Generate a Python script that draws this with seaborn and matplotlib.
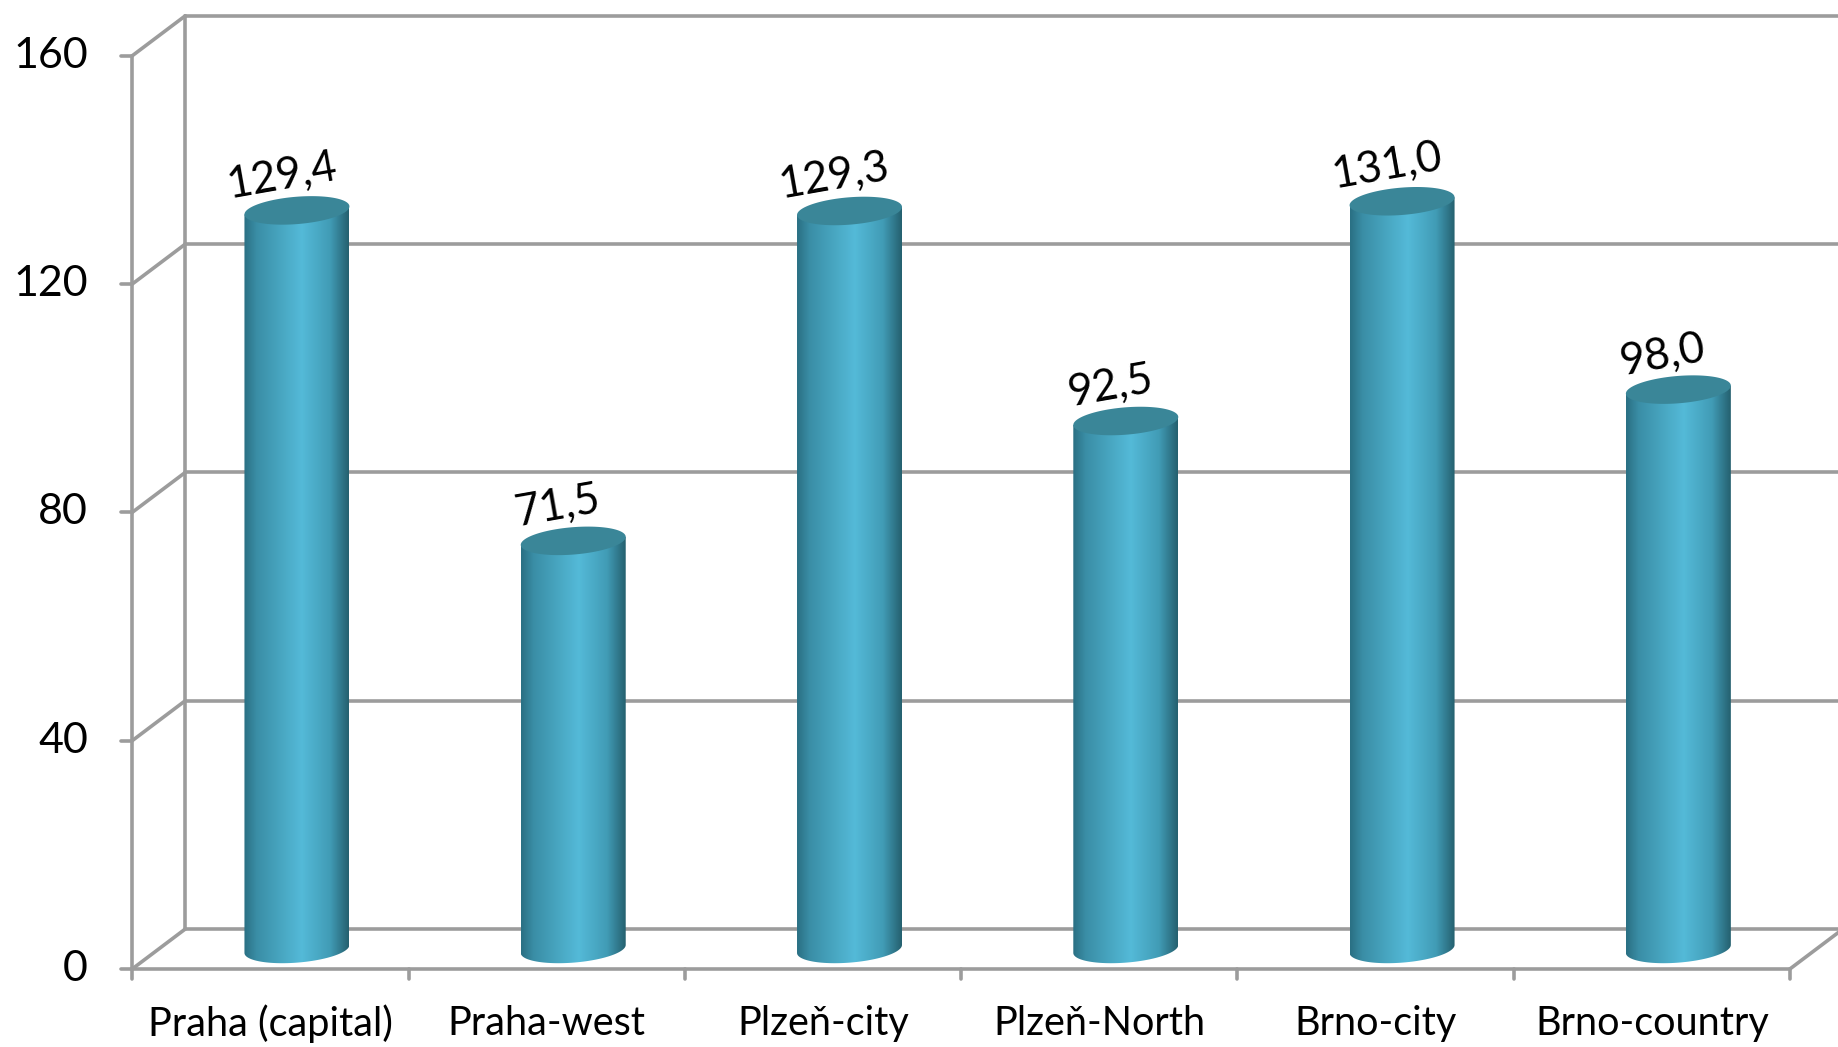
import numpy as np
import pandas as pd
import seaborn as sns
import matplotlib.pyplot as plt
from matplotlib.patches import Polygon
from matplotlib.colors import LinearSegmentedColormap

# data
regions = ['Praha (capital)', 'Praha-west', 'Plzeň-city', 'Plzeň-North', 'Brno-city', 'Brno-country']
values = [129.4, 71.5, 129.3, 92.5, 131.0, 98.0]
y_ticks = [0, 40, 80, 120, 160]

sns.set_theme(style='white')
plt.rcParams['font.family'] = ['Lato', 'DejaVu Sans']

fig = plt.figure(figsize=(18.38, 10.47), dpi=100)
# axes = middle depth plane of the 3D box (where the cylinders stand),
# extended a bit below zero so the cylinder bottoms are not cut
ax = fig.add_axes([0.0864, 0.05005, 0.9019, 0.9158])

df = pd.DataFrame({'region': regions, 'value': values})
sns.barplot(data=df, x='region', y='value', width=0.38, color='#4bb0cc', ax=ax, zorder=3)

# depth offset mid plane -> back wall, in data units
DX, DY = 0.096, 3.5
grid_c = '#9c9c9c'
lw = 2.6

# back wall gridlines and side wall diagonals
for v in y_ticks:
    ax.plot([-0.5 + DX, 5.5 + DX], [v + DY, v + DY], color=grid_c, lw=lw, clip_on=False, zorder=1)
    ax.plot([-0.5 - DX, -0.5 + DX], [v - DY, v + DY], color=grid_c, lw=lw, clip_on=False, zorder=1)
ax.plot([-0.5 + DX, -0.5 + DX], [DY, 160 + DY], color=grid_c, lw=lw, clip_on=False, zorder=1)

# front value axis
ax.plot([-0.5 - DX, -0.5 - DX], [-DY, 160 - DY], color=grid_c, lw=lw, clip_on=False, zorder=2)
for v in y_ticks:
    ax.plot([-0.5 - DX - 0.04, -0.5 - DX], [v - DY, v - DY], color=grid_c, lw=lw, clip_on=False, zorder=2)
    ax.text(-0.5 - DX - 0.16, v - DY, str(v), ha='right', va='center', fontsize=31, color='black')

# floor front edge + right diagonal
ax.plot([-0.5 - DX, 5.5 - DX], [-DY, -DY], color=grid_c, lw=lw, clip_on=False, zorder=2)
ax.plot([5.5 - DX, 5.5 + DX], [-DY, DY], color=grid_c, lw=lw, clip_on=False, zorder=2)
for i in range(len(regions) + 1):
    ax.plot([i - 0.5 - DX, i - 0.5 - DX], [-DY, -DY - 1.8], color=grid_c, lw=lw, clip_on=False, zorder=2)
for i, r in enumerate(regions):
    ax.text(i - DX, -DY - 9.6, r, ha='center', va='center', fontsize=28.5, color='black')

# cylinder look
cyl_cmap = LinearSegmentedColormap.from_list('cyl', [
    (0.0, '#2a6f83'), (0.12, '#3a8ea6'), (0.55, '#54bad8'),
    (0.82, '#419cb6'), (1.0, '#25606f')])
grad = np.linspace(0, 1, 256)[None, :]
b, k = 2.4, 0.7
t_top = np.linspace(0, 2 * np.pi, 100)
t_bot = np.linspace(np.pi, 2 * np.pi, 60)

for p, v in zip(ax.patches, values):
    x0, w = p.get_x(), p.get_width()
    cx, a = x0 + w / 2, w / 2
    p.set_visible(False)
    arc = np.column_stack([cx + a * np.cos(t_bot), b * np.sin(t_bot) + k * np.cos(t_bot)])
    body = np.vstack([[x0, v - k], arc, [x0 + w, v + k]])
    clip = Polygon(body, closed=True, transform=ax.transData)
    im = ax.imshow(grad, extent=[x0, x0 + w, -b - k - 1, v + k + 1], aspect='auto',
                   cmap=cyl_cmap, interpolation='bicubic', zorder=4)
    im.set_clip_path(clip)
    top = np.column_stack([cx + a * np.cos(t_top), v + b * np.sin(t_top) + k * np.cos(t_top)])
    ax.add_patch(Polygon(top, closed=True, facecolor='#3a8698', edgecolor='none', zorder=5))
    ax.text(cx - 0.055, v + 6.1, f'{v:.1f}'.replace('.', ','), rotation=10, ha='center',
            va='center', rotation_mode='anchor', fontsize=31.5, color='black', zorder=6)

ax.set_xlim(-0.5, 5.5)
ax.set_ylim(-8, 160)
ax.axis('off')

plt.savefig('out.png', dpi=100)
